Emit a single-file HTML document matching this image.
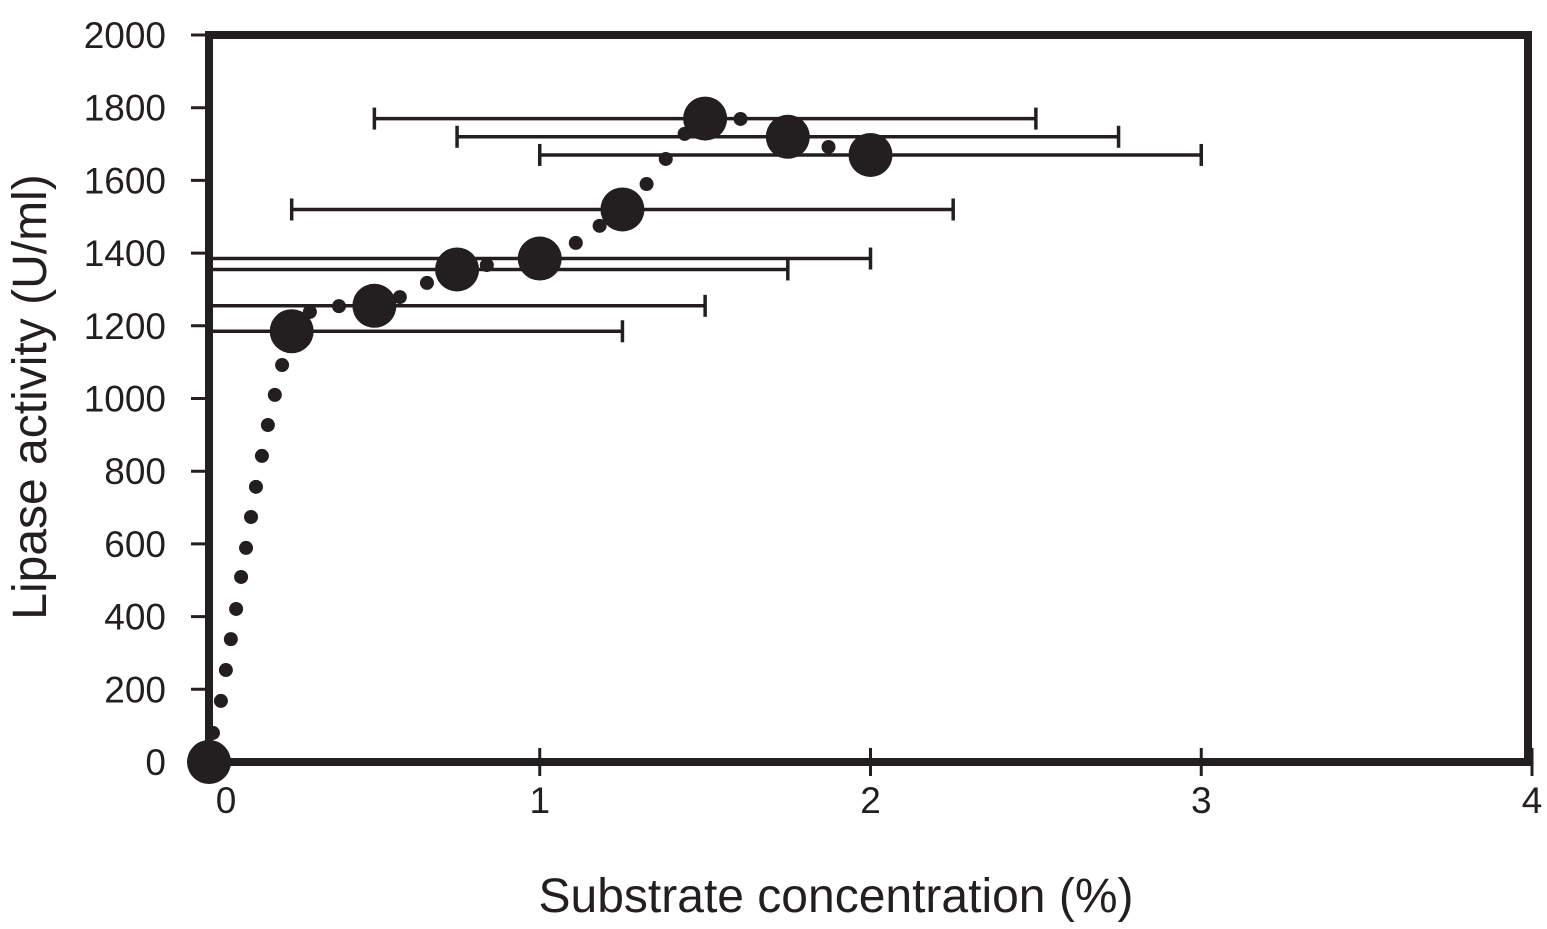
<!DOCTYPE html>
<html><head><meta charset="utf-8"><style>
html,body{margin:0;padding:0;background:#fff;}
svg text{font-family:"Liberation Sans",Arial,sans-serif;fill:#231f20;}
</style></head><body>
<svg id="chart" width="1547" height="924" viewBox="0 0 1547 924" xmlns="http://www.w3.org/2000/svg"></svg>
<script>
const xTicks=[0,1,2,3,4];
const yTicks=[0,200,400,600,800,1000,1200,1400,1600,1800,2000];
const pointX=[0,0.25,0.5,0.75,1,1.25,1.5,1.75,2];
const pointY=[0,1185,1255,1355,1385,1520,1770,1720,1670];
const errX=[0,1,1,1,1,1,1,1,1];
const trendX=[0.012,0.036,0.051,0.066,0.082,0.097,0.112,0.127,0.142,0.160,0.178,0.199,0.221,0.305,0.393,0.577,0.659,0.840,1.109,1.181,1.323,1.381,1.438,1.607,1.873];
const trendY=[80,168,253,338,421,509,589,674,757,842,927,1010,1092,1238,1254,1279,1318,1367,1428,1475,1590,1659,1728,1769,1692];

const svg=document.getElementById('chart');
const NS='http://www.w3.org/2000/svg';
const X0=209,X1=1532,Y0=762,Y1=35;
const sx=v=>X0+(v-0)/4*(X1-X0);
const sy=v=>Y0-(v/2000)*(Y0-Y1);
function el(tag,attrs,parent){const e=document.createElementNS(NS,tag);for(const k in attrs)e.setAttribute(k,attrs[k]);(parent||svg).appendChild(e);return e;}

const frame=el('rect',{x:X0,y:Y1,width:X1-X0-4,height:Y0-Y1,fill:'none',stroke:'#231f20','stroke-width':8});



yTicks.forEach(t=>{
  const y=sy(t);
  const l=el('line',{x1:X0-18,x2:X0,y1:y,y2:y,stroke:'#231f20','stroke-width':3});
  
  
  const tx=el('text',{x:166,y:y+13,'text-anchor':'end','font-size':37});
  tx.textContent=t;
  
  
});
xTicks.forEach(t=>{
  const x=sx(t);
  const l=el('line',{x1:x,x2:x,y1:Y0-14,y2:Y0+14,stroke:'#231f20','stroke-width':3});
  
  
  const tx=el('text',{x:t===0?x+17:x,y:Y0+51,'text-anchor':'middle','font-size':37});
  tx.textContent=t;
  
  
});

pointX.forEach((px,i)=>{
  if(errX[i]===0)return;
  const lo=px-errX[i],hi=px+errX[i];
  const xl=Math.max(sx(lo),X0),xh=sx(hi),y=sy(pointY[i]);
  const g=el('g',{});
  
  
  el('line',{x1:xl,x2:xh,y1:y,y2:y,stroke:'#231f20','stroke-width':3.5},g);
  el('line',{x1:xh,x2:xh,y1:y-11,y2:y+11,stroke:'#231f20','stroke-width':3.5},g);
  if(sx(lo)>=X0)el('line',{x1:xl,x2:xl,y1:y-11,y2:y+11,stroke:'#231f20','stroke-width':3.5},g);
});

trendX.forEach((tx,i)=>{
  const c=el('circle',{cx:sx(tx),cy:sy(trendY[i]),r:7,fill:'#231f20'});
  
  
});

pointX.forEach((px,i)=>{
  const c=el('circle',{cx:sx(px),cy:sy(pointY[i]),r:22,fill:'#231f20'});
  
  
});

const xt=el('text',{x:836,y:912,'text-anchor':'middle','font-size':48});
xt.textContent='Substrate concentration (%)';


const yt=el('text',{x:0,y:0,'text-anchor':'middle','font-size':48,transform:'translate(46,397) rotate(-90)'});
yt.textContent='Lipase activity (U/ml)';


</script>
</body></html>
